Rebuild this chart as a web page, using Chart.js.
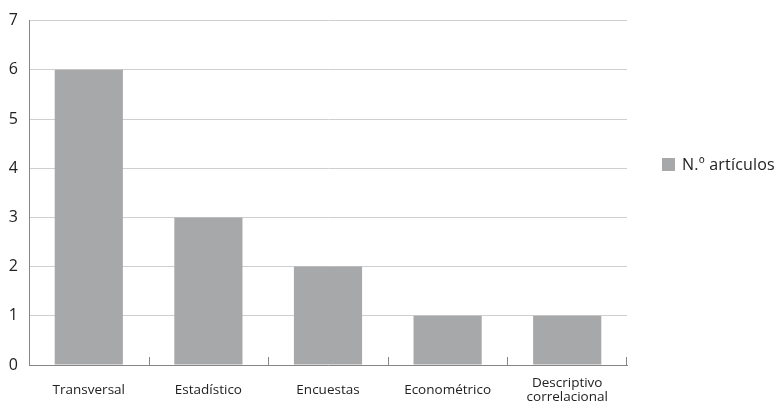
<!DOCTYPE html>
<html>
<head>
<meta charset="utf-8">
<script src="https://cdn.jsdelivr.net/npm/chart.js@4"></script>
<style>
  html, body { margin: 0; padding: 0; background: #fff; }
  #wrap { position: relative; width: 783px; height: 406px; }
  #legend { position: absolute; left: 662px; top: 153px; font: 16px 'Open Sans', sans-serif; color: #222; white-space: nowrap; letter-spacing: 0.2px; }
  #legend span.box { display: inline-block; width: 13px; height: 13px; background: #a7a8aa; vertical-align: -1px; margin-right: 7px; }
</style>
</head>
<body>
<div id="wrap">
  <canvas id="myChart" width="783" height="406"></canvas>
  <div id="legend"><span class="box"></span>N.º artículos</div>
</div>
<script>
let categories = ['Transversal', 'Estadístico', 'Encuestas', 'Econométrico', ['Descriptivo', 'correlacional']];
let values = [6, 3, 2, 1, 1];
let yTicks = [0, 1, 2, 3, 4, 5, 6, 7];
let seriesName = 'N.º artículos';

let font = "'Open Sans', sans-serif";

// short tick marks between categories, pointing up from the x axis
let catTicks = {
  id: 'catTicks',
  afterDraw(chart) {
    let x = chart.scales.x, ctx = chart.ctx;
    let bottom = chart.chartArea.bottom;
    ctx.save();
    ctx.strokeStyle = '#868686';
    ctx.lineWidth = 1;
    for (let i = 1; i <= categories.length; i++) {
      let px = Math.round((x.getPixelForValue(i - 1) + x.getPixelForValue(i)) / 2) + 0.5;
      if (i === categories.length) px = Math.round(chart.chartArea.right) - 0.5;
      ctx.beginPath();
      ctx.moveTo(px, bottom);
      ctx.lineTo(px, bottom - 8);
      ctx.stroke();
    }
    ctx.restore();
  }
};

let ctx = document.getElementById('myChart').getContext('2d');
let myChart = new Chart(ctx, {
  type: 'bar',
  data: {
    labels: categories,
    datasets: [{
      label: seriesName,
      data: values,
      backgroundColor: '#a7a8aa',
      categoryPercentage: 1,
      barPercentage: 0.57
    }]
  },
  options: {
    responsive: false,
    animation: false,
    layout: { padding: { top: 19, right: 156, left: 0, bottom: 0 } },
    plugins: {
      legend: { display: false },
      tooltip: { enabled: false }
    },
    scales: {
      x: {
        grid: { display: false },
        border: { color: '#868686', width: 1 },
        ticks: {
          color: '#222',
          font: { family: font, size: 13.5, lineHeight: 1.05 },
          crossAlign: 'center',
          padding: 10,
          maxRotation: 0
        },
        afterFit(s) { s.height = 41; }
      },
      y: {
        min: 0,
        max: 7,
        afterBuildTicks(s) { s.ticks = yTicks.map(v => ({ value: v })); },
        grid: { color: '#cfcfcf', drawTicks: false },
        border: { color: '#868686', width: 1 },
        ticks: {
          color: '#222',
          font: { family: font, size: 16 },
          padding: 11
        },
        afterFit(s) { s.width = 29; }
      }
    }
  },
  plugins: [catTicks]
});
</script>
</body>
</html>
